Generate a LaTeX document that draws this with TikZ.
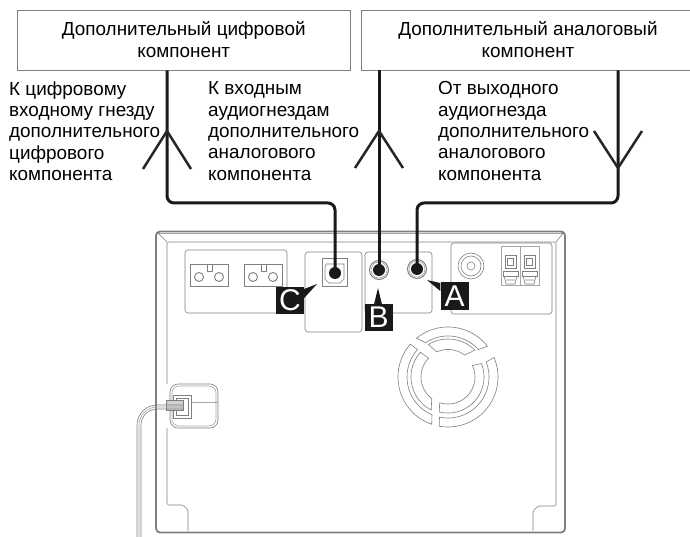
\documentclass[tikz,border=0pt]{standalone}
\usepackage{fontspec}
\setmainfont{Liberation Sans}
\definecolor{gr}{HTML}{7F7F7F}
\definecolor{lg}{HTML}{A6A6A6}
\tikzset{
  x=1pt,y=-1pt,
  compbox/.style={draw=gr,line width=0.8pt,fill=white,inner sep=0pt,align=center,font=\fontsize{18.9}{22}\selectfont},
  lab/.style={anchor=west,inner sep=0pt,align=left,font=\fontsize{18.9}{21.3}\selectfont},
  wire/.style={draw=black!90,line width=3pt,rounded corners=7pt},
  chev/.style={draw=black!85,line width=2.5pt},
  thin1/.style={draw=gr,line width=0.6pt},
  thin2/.style={draw=lg,line width=0.6pt},
  body/.style={draw=gr,line width=1.8pt},
  tag/.style={fill=black!90,text=white,inner sep=0pt,minimum width=28pt,minimum height=27.5pt,font=\fontsize{30}{30}\selectfont},
  jackplug/.style={circle,fill=black!90,inner sep=0pt,minimum size=12pt},
}
\newcommand{\fanring}[6]{%
  \draw[thin1] plot[domain=#2:#3,samples=30,smooth] ({448+#1*cos(\x)},{377+#1*sin(\x)})
    -- plot[domain=#6:#5,samples=30,smooth] ({448+#4*cos(\x)},{377+#4*sin(\x)}) -- cycle;}
\begin{document}
\begin{tikzpicture}
\useasboundingbox (0,0) rectangle (690,537);
% device body
\draw[body,rounded corners=4pt] (156,532.5) -- (156,231.5) -- (565,231.5) -- (565,532.5) -- cycle;
\draw[thin2] (158,233.5) -- (563,233.5);
\draw[thin1,rounded corners=1.5pt] (167,384) -- (167,242) -- (556,242) -- (556,506) -- (538,506) -- (533,511) -- (533,531);
\draw[thin1,rounded corners=1.5pt] (167,428) -- (167,505) -- (183,505) -- (188,510) -- (188,531);
\draw[thin1] (157,232) -- (167,242) (564,232) -- (556,242);
% panels
\draw[thin1,rounded corners=3pt] (185,250) rectangle (287,313);
\draw[thin1,rounded corners=3pt] (305,252) rectangle (362,332);
\draw[thin1,rounded corners=3pt] (365,252) rectangle (432,313);
\draw[thin1,rounded corners=3pt] (451,243) rectangle (552,314);
% two-pin sockets
\foreach \ox in {0,54}{
  \draw[thin1] (190+\ox,264) rectangle (228+\ox,286);
  \draw[thin1] (207+\ox,271) -- (207+\ox,264) (212+\ox,264) -- (212+\ox,271) -- (207+\ox,271);
  \draw[thin1,line width=0.9pt] (199+\ox,277) circle (4.5);
  \draw[thin1,line width=0.9pt] (219+\ox,277) circle (4.5);
}
% optical socket
\draw[thin1] (322,258) rectangle (347,286);
\draw[thin1] (326,264) -- (344,264) -- (344,279) -- (340,283) -- (329,283) -- (325,279) -- (325,268) -- cycle;
% RCA socket
\draw[thin1] (471,266) circle (13) (471,266) circle (10) (471,266) circle (4);
% speaker terminals
\foreach \ox in {0,19}{
  \draw[thin2,line width=0.9pt] (501+\ox,246) rectangle (520+\ox,285);
  \draw[thin1] (505+\ox,255) rectangle (516+\ox,268) (507.5+\ox,258) rectangle (513.5+\ox,265);
  \draw[thin1] (503+\ox,271) -- (518+\ox,271) -- (518+\ox,276) -- (503+\ox,276) -- cycle;
  \draw[thin1] (504+\ox,276) -- (506+\ox,284) -- (515+\ox,284) -- (517+\ox,276) (506+\ox,280) -- (515+\ox,280);
}
% fan
\fanring{50}{-23}{100}{41}{-21.5}{102}
\fanring{36}{-22}{104}{27}{-25}{108}
\fanring{50}{109}{221}{41}{113}{222}
\fanring{37}{117}{222}{27}{127}{224}
\fanring{50}{231}{322}{41}{237}{318}
\fanring{38}{239}{315}{27.5}{246}{307}
% cable clamp
\draw[thin1,rounded corners=8pt,fill=white] (170,384) rectangle (218,428);
\draw[thin2,rounded corners=7pt] (172,386) rectangle (216,426);
\draw[thin2] (170,402) -- (218,402);
\draw[thin1,fill=white] (173,395) rectangle (191,418);
\draw[thin1] (176,398) rectangle (188,415);
\draw[thin1,fill=lg!50] (166,400) rectangle (183,410);
\draw[thin1,rounded corners=20pt] (137,537) -- (137,405) -- (183,405);
\draw[thin2,rounded corners=18pt] (139,537) -- (139,407) -- (183,407);
\draw[thin1,rounded corners=16pt] (141,537) -- (141,409) -- (183,409);
% component boxes
\node[compbox,minimum width=332.5pt,minimum height=60pt] (dig) at (183.75,40) {Дополнительный цифровой\\компонент};
\node[compbox,minimum width=334pt,minimum height=60pt] (ana) at (528,40) {Дополнительный аналоговый\\компонент};
% jacks
\draw[thin1,line width=1pt] (379,270) circle (9.5) (417,269) circle (9.5);
\draw[thin2] (379,270) circle (8) (417,269) circle (8);
\node[jackplug] (jc) at (335,273) {};
\node[jackplug] (jb) at (379,270) {};
\node[jackplug] (ja) at (417,269) {};
% wire routes
\coordinate (xd) at (167,70);
\coordinate (xa) at (618,70);
\coordinate (yr) at (0,203);
\draw[wire] (dig.south -| xd) -- (xd |- yr) -- (jc |- yr) -- (jc.center);
\draw[wire] (ana.south -| jb) -- (jb.center);
\draw[wire] (ana.south -| xa) -- (xa |- yr) -- (ja |- yr) -- (ja.center);
% direction marks
\coordinate (m1) at (167,131);
\coordinate (m2) at (379,131);
\coordinate (m3) at (618,168);
\draw[chev] (143,169) -- (m1) -- (191,169);
\draw[chev] (355,168) -- (m2) -- (403,168);
\draw[chev] (594,131) -- (m3) -- (642,131);
% labels
\node[lab] (l1) at (9,131) {К цифровому\\входному гнезду\\дополнительного\\цифрового\\компонента};
\node[lab] (l2) at (208,131) {К входным\\аудиогнездам\\дополнительного\\аналогового\\компонента};
\node[lab] (l3) at (438,131) {От выходного\\аудиогнезда\\дополнительного\\аналогового\\компонента};
% tags
\node[tag] (tc) at (290,300.5) {C};
\node[tag] (tb) at (378.5,317.5) {B};
\node[tag] (ta) at (454.5,296) {A};
\coordinate (pc) at (317,284);
\coordinate (pb) at (378,288);
\coordinate (pa) at (427,280);
\fill[black!90] (tc.east |- 0,289) -- (pc) -- (tc.east |- 0,298) -- cycle;
\fill[black!90] (374,304.5) -- (pb) -- (382,304.5) -- cycle;
\fill[black!90] (ta.west |- 0,283) -- (pa) -- (ta.west |- 0,291) -- cycle;
\end{tikzpicture}
\end{document}
